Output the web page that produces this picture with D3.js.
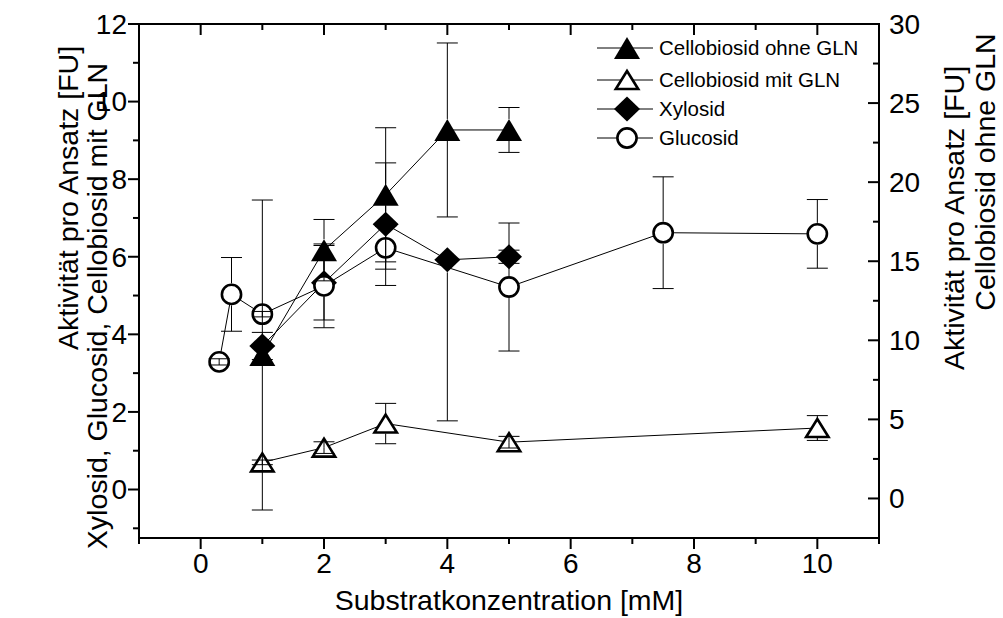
<!DOCTYPE html>
<html>
<head>
<meta charset="utf-8">
<script src="https://cdn.jsdelivr.net/npm/d3@7"></script>
<style>
  html, body { margin: 0; padding: 0; background: #fff; }
  svg { display: block; }
  text { font-family: "Liberation Sans", Arial, sans-serif; fill: #000; }
</style>
</head>
<body>
<svg id="chart" width="1003" height="618"></svg>
<script>
// Substrate concentration series (mM) and activities (FU)
const glucosidX = [0.3, 0.5, 1, 2, 3, 5, 7.5, 10];
const glucosidY = [3.29, 5.03, 4.52, 5.25, 6.23, 5.22, 6.62, 6.59];
const glucosidErrPlus  = [0.08, 0.95, 0.07, 1.08, 0.55, 1.65, 1.44, 0.885];
const glucosidErrMinus = [0.08, 0.95, 0.07, 1.08, 0.55, 1.65, 1.44, 0.885];

const xylosidX = [1, 2, 3, 4, 5];
const xylosidY = [3.70, 5.33, 6.84, 5.92, 6.00];
const xylosidErrPlus  = [0.35, 0.96, 1.58, 0, 0.17];
const xylosidErrMinus = [0.35, 0.96, 1.58, 4.15, 0.17];

// Cellobiosid ohne GLN is read on the right-hand axis
const cellOhneX = [1, 2, 3, 4, 5];
const cellOhneY = [9.07, 15.7, 19.2, 23.3, 23.3];
const cellOhneErrPlus  = [9.8, 1.94, 4.24, 5.5, 1.42];
const cellOhneErrMinus = [9.8, 1.94, 4.24, 5.5, 1.42];

const cellMitX = [1, 2, 3, 5, 10];
const cellMitY = [0.70, 1.08, 1.70, 1.22, 1.585];
const cellMitErrPlus  = [0.06, 0.15, 0.52, 0.15, 0.32];
const cellMitErrMinus = [0.06, 0.15, 0.52, 0.15, 0.32];

const xTicks = [0, 2, 4, 6, 8, 10];
const yLeftTicks = [0, 2, 4, 6, 8, 10, 12];
const yRightTicks = [0, 5, 10, 15, 20, 25, 30];

const legendLabels = ["Cellobiosid ohne GLN", "Cellobiosid mit GLN", "Xylosid", "Glucosid"];

// ---- layout ----
const svg = d3.select("#chart");
const L = 139, R = 879, T = 24, B = 538;

const x = d3.scaleLinear().domain([-1, 11]).range([L, R]);
const yL = d3.scaleLinear().domain([-1.25, 12]).range([B, T]);
const yR = d3.scaleLinear().domain([-2.5, 30]).range([B, T]);

const FONT_TICK = 28;
const FONT_TITLE = 28.5;
const FONT_LEGEND = 20.5;

// ---- symbols ----
function symbolPath(kind) {
  if (kind === "triFilled") return "M0,-11 L13,11 L-13,11 Z";
  if (kind === "triOpen") return "M0,-9 L11.2,9 L-11.2,9 Z";
  if (kind === "diamond") return "M0,-12.5 L13,0 L0,12.5 L-13,0 Z";
  return null;
}
function drawSymbol(g, kind, cx, cy) {
  if (kind === "circle") {
    g.append("circle").attr("cx", cx).attr("cy", cy).attr("r", 9.6)
      .attr("fill", "#fff").attr("stroke", "#000").attr("stroke-width", 2.6);
  } else if (kind === "triOpen") {
    g.append("path").attr("d", symbolPath(kind)).attr("transform", `translate(${cx},${cy})`)
      .attr("fill", "#fff").attr("stroke", "#000").attr("stroke-width", 2.6)
      .attr("stroke-linejoin", "miter");
  } else {
    g.append("path").attr("d", symbolPath(kind)).attr("transform", `translate(${cx},${cy})`)
      .attr("fill", "#000").attr("stroke", "none");
  }
}
const symbolHalf = { circle: 11, triOpen: 10, triFilled: 11, diamond: 12.5 };

const series = [
  { kind: "triFilled", xs: cellOhneX, ys: cellOhneY, ep: cellOhneErrPlus, em: cellOhneErrMinus, y: yR },
  { kind: "diamond",   xs: xylosidX,  ys: xylosidY,  ep: xylosidErrPlus,  em: xylosidErrMinus,  y: yL },
  { kind: "circle",    xs: glucosidX, ys: glucosidY, ep: glucosidErrPlus, em: glucosidErrMinus, y: yL },
  { kind: "triOpen",   xs: cellMitX,  ys: cellMitY,  ep: cellMitErrPlus,  em: cellMitErrMinus,  y: yL }
];

const plot = svg.append("g");

// connecting lines
series.forEach(s => {
  const pts = s.xs.map((v, i) => [x(v), s.y(s.ys[i])]);
  plot.append("path").attr("d", d3.line()(pts))
    .attr("fill", "none").attr("stroke", "#000").attr("stroke-width", 1);
});

// symbols
series.forEach(s => {
  s.xs.forEach((v, i) => drawSymbol(plot, s.kind, x(v), s.y(s.ys[i])));
});

// error bars (the stem skips the inside of its own symbol)
const cap = 10.5;
series.forEach(s => {
  s.xs.forEach((v, i) => {
    const cx = x(v), cy = s.y(s.ys[i]);
    const h = symbolHalf[s.kind];
    const parts = [];
    if (s.ep[i] > 0) {
      const top = s.y(s.ys[i] + s.ep[i]);
      const stemEnd = (cy - top) > h ? cy - h : cy;
      parts.push([[cx, top], [cx, stemEnd]]);
      parts.push([[cx - cap, top], [cx + cap, top]]);
    }
    if (s.em[i] > 0) {
      const bot = s.y(s.ys[i] - s.em[i]);
      const stemEnd = (bot - cy) > h ? cy + h : cy;
      parts.push([[cx, stemEnd], [cx, bot]]);
      parts.push([[cx - cap, bot], [cx + cap, bot]]);
    }
    parts.forEach(p => plot.append("path").attr("d", d3.line()(p))
      .attr("stroke", "#000").attr("stroke-width", 1).attr("fill", "none"));
  });
});

// ---- axes ----
const axes = svg.append("g");
const minorX = d3.range(-1, 12, 1).filter(v => v % 2 !== 0);
const minorYL = d3.range(-1, 12, 1).filter(v => v % 2 !== 0);
const minorYR = d3.range(-2.5, 30, 5);

function tickLine(x1, y1, x2, y2) {
  axes.append("line").attr("x1", x1).attr("y1", y1).attr("x2", x2).attr("y2", y2)
    .attr("stroke", "#000").attr("stroke-width", 2);
}
const MAJ = 11, MIN = 6;

// bottom (outward) and top (inward)
xTicks.forEach(v => { tickLine(x(v), B, x(v), B + MAJ); tickLine(x(v), T, x(v), T + MAJ); });
minorX.forEach(v => { tickLine(x(v), B, x(v), B + MIN); tickLine(x(v), T, x(v), T + MIN); });
// left (outward)
yLeftTicks.forEach(v => tickLine(L, yL(v), L - MAJ, yL(v)));
minorYL.forEach(v => tickLine(L, yL(v), L - MIN, yL(v)));
// right (inward)
yRightTicks.forEach(v => tickLine(R, yR(v), R - MAJ, yR(v)));
minorYR.forEach(v => tickLine(R, yR(v), R - MIN, yR(v)));

// frame
axes.append("rect").attr("x", L).attr("y", T).attr("width", R - L).attr("height", B - T)
  .attr("fill", "none").attr("stroke", "#000").attr("stroke-width", 2);

// tick labels
const labels = svg.append("g");
xTicks.forEach(v => labels.append("text").attr("x", x(v)).attr("y", B + 35)
  .attr("text-anchor", "middle").attr("font-size", FONT_TICK).text(v));
yLeftTicks.forEach(v => labels.append("text").attr("x", L - 12).attr("y", yL(v))
  .attr("dy", "0.35em").attr("text-anchor", "end").attr("font-size", FONT_TICK).text(v));
yRightTicks.forEach(v => labels.append("text").attr("x", R + 10).attr("y", yR(v))
  .attr("dy", "0.35em").attr("text-anchor", "start").attr("font-size", FONT_TICK).text(v));

// axis titles
labels.append("text").attr("x", (L + R) / 2).attr("y", 610).attr("text-anchor", "middle")
  .attr("font-size", FONT_TITLE).text("Substratkonzentration [mM]");

function vTitle(cx, cy, txt) {
  labels.append("text").attr("transform", `translate(${cx},${cy}) rotate(-90)`)
    .attr("text-anchor", "middle").attr("font-size", FONT_TITLE).text(txt);
}
vTitle(78, 198, "Aktivität pro Ansatz [FU]");
vTitle(107, 306, "Xylosid, Glucosid, Cellobiosid mit GLN");
vTitle(964, 218, "Aktivität pro Ansatz [FU]");
vTitle(995, 172, "Cellobiosid ohne GLN");

// ---- legend ----
const legend = svg.append("g");
const legendKinds = ["triFilled", "triOpen", "diamond", "circle"];
const legendY = [48, 80, 109, 138];
legendKinds.forEach((k, i) => {
  const ly = legendY[i];
  legend.append("line").attr("x1", 597).attr("x2", 653).attr("y1", ly).attr("y2", ly)
    .attr("stroke", "#000").attr("stroke-width", 1);
  drawSymbol(legend, k, 627, ly);
  legend.append("text").attr("x", 659).attr("y", ly).attr("dy", "0.36em")
    .attr("font-size", FONT_LEGEND).text(legendLabels[i]);
});
</script>
</body>
</html>
